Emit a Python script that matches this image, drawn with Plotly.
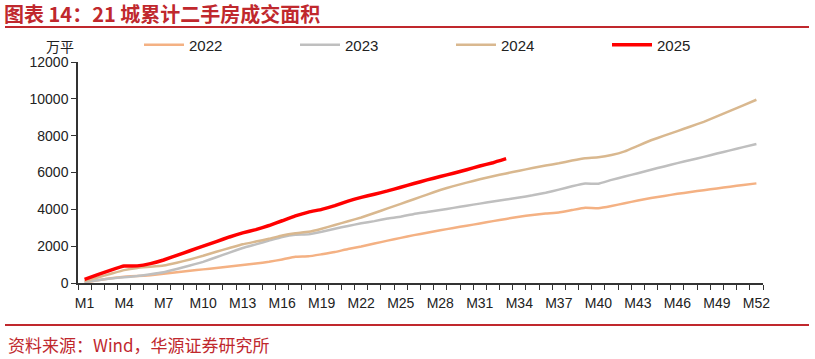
import plotly.graph_objects as go

weeks = [f"M{i}" for i in range(1, 53)]
tick_labels = [f"M{i}" for i in range(1, 53, 3)]

v2022 = [30, 150, 260, 340, 380, 420, 500, 580, 660, 740, 820, 900, 980, 1060, 1150, 1280,
         1420, 1450, 1560, 1680, 1850, 1980, 2140, 2300, 2450, 2600, 2730, 2860, 2990, 3110,
         3230, 3360, 3480, 3600, 3690, 3770, 3830, 3960, 4080, 4060, 4180, 4330, 4480, 4620,
         4730, 4840, 4940, 5040, 5130, 5230, 5320, 5410]
v2023 = [50, 150, 250, 310, 380, 470, 580, 760, 950, 1150, 1400, 1650, 1900, 2100, 2300, 2500,
         2620, 2640, 2780, 2950, 3100, 3240, 3360, 3500, 3600, 3750, 3850, 3960, 4080, 4200,
         4310, 4420, 4530, 4640, 4760, 4900, 5070, 5250, 5400, 5390, 5600, 5780, 5960, 6150,
         6330, 6510, 6680, 6850, 7030, 7200, 7380, 7550]
v2024 = [100, 300, 500, 700, 820, 880, 950, 1100, 1280, 1480, 1700, 1900, 2100, 2250, 2400,
         2580, 2700, 2780, 2950, 3150, 3350, 3560, 3800, 4050, 4300, 4550, 4800, 5050, 5260,
         5450, 5630, 5800, 5950, 6100, 6240, 6380, 6500, 6650, 6780, 6830, 6950, 7150, 7450,
         7750, 8000, 8250, 8500, 8750, 9050, 9350, 9650, 9950]
v2025 = [200, 450, 700, 920, 930, 1050, 1250, 1500, 1750, 2000, 2250, 2500, 2720, 2900, 3120,
         3380, 3640, 3850, 4000, 4200, 4450, 4650, 4820, 5000, 5200, 5400, 5600, 5780, 5960,
         6150, 6350, 6530, 6750]

series = [("2022", v2022, "#F4B183", 2.5),
          ("2023", v2023, "#BFBFBF", 2.5),
          ("2024", v2024, "#D9B88F", 2.5),
          ("2025", v2025, "#FF0000", 3.5)]

idx = {w: i + 1 for i, w in enumerate(weeks)}

fig = go.Figure()
for name, vals, color, width in series:
    fig.add_trace(go.Scatter(
        x=[idx[w] for w in weeks[:len(vals)]], y=vals, name=name, mode="lines",
        line=dict(color=color, width=width, shape="spline", smoothing=0.3),
    ))

PW, PH = 685, 221
font_main = "Liberation Sans, Arial, sans-serif"
fig.update_layout(
    width=815, height=359,
    margin=dict(l=78, r=52, t=62, b=76, autoexpand=False),
    paper_bgcolor="white", plot_bgcolor="white",
    font=dict(family=font_main, size=14, color="#222"),
    showlegend=True,
    legend=dict(orientation="h", x=(139 - 78) / PW, xanchor="left",
                y=1 + (62 - 45) / PH, yanchor="middle",
                font=dict(size=15, color="#222"), entrywidth=101, entrywidthmode="pixels",
                itemwidth=40, bgcolor="rgba(0,0,0,0)", tracegroupgap=0),
    xaxis=dict(
        range=[0.5, 52.5], tickmode="array",
        tickvals=[idx[t] for t in tick_labels], ticktext=tick_labels,
        ticks="", showgrid=False, zeroline=False,
        showline=True, linecolor="#333", linewidth=1.5,
        tickfont=dict(size=14, color="#222"), ticklabelstandoff=6,
        minor=dict(tickmode="linear", tick0=0.5, dtick=1, ticks="outside",
                   ticklen=5, tickcolor="#333", tickwidth=1, showgrid=False),
    ),
    yaxis=dict(
        range=[0, 12000], tickvals=[0, 2000, 4000, 6000, 8000, 10000, 12000],
        tickformat="d",
        ticks="outside", ticklen=5, tickcolor="#333", showgrid=False, zeroline=False,
        showline=True, linecolor="#333", linewidth=1.5,
        tickfont=dict(size=14, color="#222"),
    ),
)

red = "#C0282D"
fig.add_annotation(text="<b>图表 14：21 城累计二手房成交面积</b>", xref="paper", yref="paper",
                   x=-76 / PW, y=1 + (62 - 14) / PH, xanchor="left", yanchor="middle",
                   showarrow=False, font=dict(family="Noto Sans CJK SC", size=20, color=red))
fig.add_annotation(text="万平", xref="paper", yref="paper",
                   x=-2 / PW, y=1 + (62 - 46) / PH, xanchor="right", yanchor="middle",
                   showarrow=False, font=dict(family="Noto Sans CJK SC", size=14, color="#222"))
fig.add_annotation(text="资料来源：Wind，华源证券研究所", xref="paper", yref="paper",
                   x=-72 / PW, y=-(344 - 283) / PH, xanchor="left", yanchor="middle",
                   showarrow=False, font=dict(family="Noto Sans CJK SC", size=17, color=red))
fig.add_shape(type="line", xref="paper", yref="paper", x0=-73 / PW, x1=1 + 46 / PW,
              y0=1 + (62 - 27) / PH, y1=1 + (62 - 27) / PH, line=dict(color=red, width=2))
fig.add_shape(type="line", xref="paper", yref="paper", x0=-73 / PW, x1=1 + 46 / PW,
              y0=-(325 - 283) / PH, y1=-(325 - 283) / PH, line=dict(color=red, width=2))

fig.write_html("out.html", config={"displayModeBar": False},
               post_script="document.body.style.margin='0';")
